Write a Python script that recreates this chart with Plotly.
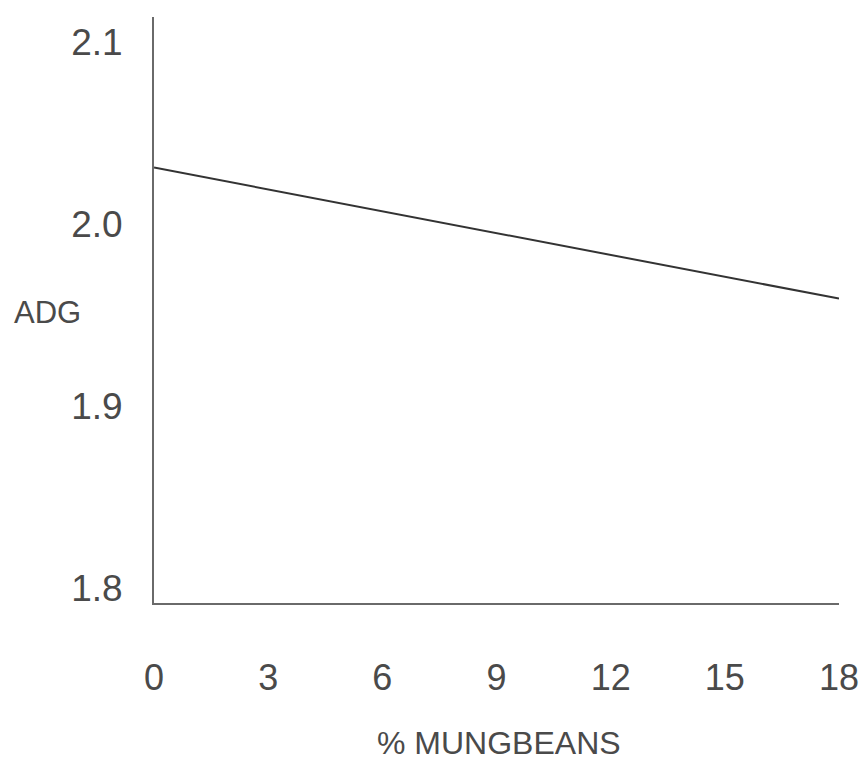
import plotly.graph_objects as go

# Data
pct_mungbeans = [0, 18]
adg = [2.031, 1.959]
x_ticks = [0, 3, 6, 9, 12, 15, 18]
y_ticks = [1.8, 1.9, 2.0, 2.1]
y_tick_labels = ["1.8", "1.9", "2.0", "2.1"]
x_title = "% MUNGBEANS"
y_title = "ADG"

FONT = "Liberation Sans, Arial, sans-serif"
TXT = "#4a4a4a"

W, H = 861, 764
L, R, T, B = 154, 22, 17, 161
PW, PH = W - L - R, H - T - B

fig = go.Figure()
fig.add_trace(go.Scatter(
    x=pct_mungbeans, y=adg, mode="lines",
    line=dict(color="#333333", width=2),
    showlegend=False, hoverinfo="skip",
))

fig.update_layout(
    width=W, height=H,
    margin=dict(l=L, r=R, t=T, b=B),
    plot_bgcolor="white", paper_bgcolor="white",
    font=dict(family=FONT, size=36, color=TXT),
    xaxis=dict(
        range=[0, 18], tickmode="array", tickvals=x_ticks,
        ticks="", showgrid=False, zeroline=False, automargin=False,
        showline=True, linecolor="#6a6a6a", linewidth=2,
        ticklabelstandoff=42,
        tickfont=dict(family=FONT, size=36, color=TXT),
    ),
    yaxis=dict(
        range=[1.7918, 2.1137], tickmode="array", tickvals=y_ticks,
        ticktext=y_tick_labels,
        ticks="", showgrid=False, zeroline=False, automargin=False,
        showline=True, linecolor="#6a6a6a", linewidth=2,
        ticklabelstandoff=22,
        tickfont=dict(family=FONT, size=37, color=TXT),
    ),
    annotations=[
        dict(
            text=y_title, xref="paper", yref="paper",
            x=(47 - L) / PW, y=(H - B - 312) / PH,
            xanchor="center", yanchor="middle", showarrow=False,
            font=dict(family=FONT, size=31, color=TXT),
        ),
        dict(
            text=x_title, xref="paper", yref="paper",
            x=(499 - L) / PW, y=(H - B - 763) / PH,
            xanchor="center", yanchor="bottom", showarrow=False,
            font=dict(family=FONT, size=32, color=TXT),
        ),
    ],
)

fig.write_html(
    "out.html",
    config={"displayModeBar": False},
    post_script="document.body.style.margin='0';document.body.style.overflow='hidden';",
)
